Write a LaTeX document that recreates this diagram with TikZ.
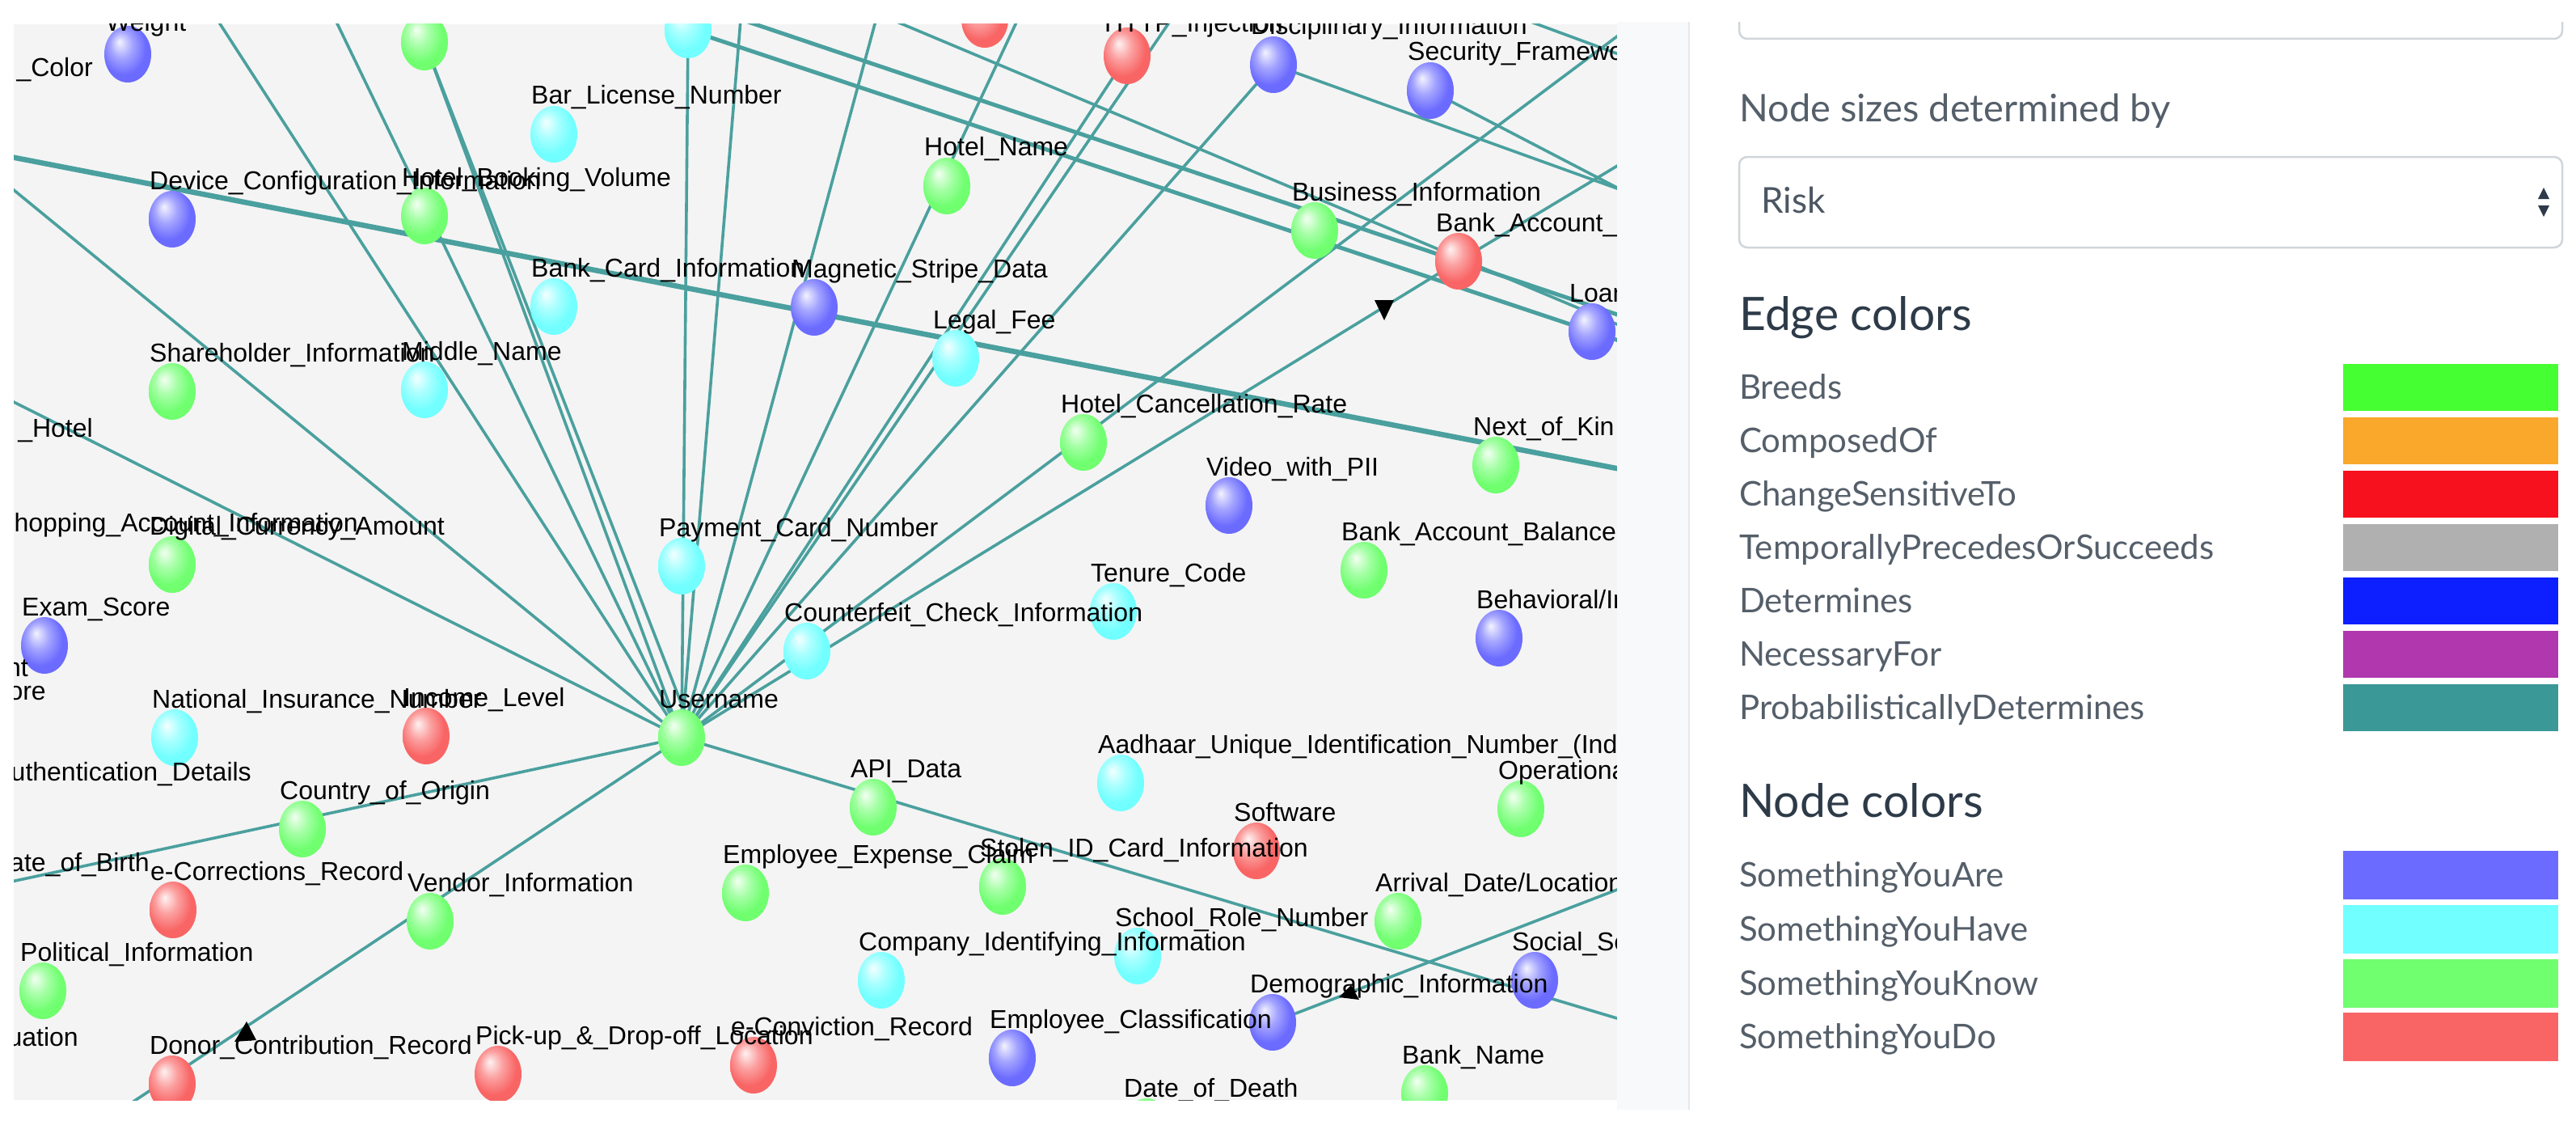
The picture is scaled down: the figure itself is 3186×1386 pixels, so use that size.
\documentclass[tikz,border=0pt]{standalone}
\usepackage{fontspec}
\setmainfont{Liberation Sans}
\newfontfamily\lato{Lato}
\usetikzlibrary{shapes.geometric}
\pgfdeclarelayer{back}
\pgfdeclarelayer{edges}
\pgfsetlayers{back,edges,main}
\definecolor{teal1}{RGB}{74,160,158}
\definecolor{panelgray}{RGB}{244,244,244}
\definecolor{stripcol}{RGB}{248,249,250}
\definecolor{stripline}{RGB}{230,232,235}
\definecolor{boxc}{RGB}{208,213,218}
\definecolor{txtc}{RGB}{85,95,106}
\definecolor{hdc}{RGB}{45,58,72}
\definecolor{nA}{RGB}{107,107,255}
\definecolor{nH}{RGB}{113,255,255}
\definecolor{nK}{RGB}{111,255,111}
\definecolor{nD}{RGB}{249,101,101}
\definecolor{eB}{RGB}{70,255,50}
\definecolor{eC}{RGB}{249,168,44}
\definecolor{eCh}{RGB}{247,16,30}
\definecolor{eT}{RGB}{176,176,176}
\definecolor{eD}{RGB}{13,30,255}
\definecolor{eN}{RGB}{176,55,174}
\definecolor{eP}{RGB}{58,152,150}
\colorlet{nodecol}{white}
\pgfdeclareradialshading[nodecol]{nodeball}{\pgfpoint{-9bp}{11bp}}{color(0bp)=(nodecol!8!white); color(12bp)=(nodecol!62!white); color(24bp)=(nodecol); color(50bp)=(nodecol)}
\tikzset{
  nball/.style={ellipse, minimum width=58pt, minimum height=70pt, inner sep=0pt, outer sep=0pt,
    /utils/exec={\colorlet{nodecol}{#1}}, shade, shading=nodeball},
  lbl/.style={anchor=base west, inner sep=0pt, font=\fontsize{32}{36}\selectfont, text=black},
  lble/.style={lbl, anchor=base east},
  tedge/.style={draw=teal1, line width=3.6pt},
  tedgew/.style={draw=teal1, line width=6.5pt},
  tedgem/.style={draw=teal1, line width=5pt},
  lt/.style={anchor=base west, inner sep=0pt, text=txtc, font=\lato\fontsize{42}{48}\selectfont},
  hd/.style={anchor=base west, inner sep=0pt, text=hdc, font=\lato\fontsize{57}{64}\selectfont},
  swatch/.style={minimum width=266pt, minimum height=58pt, inner sep=0pt, outer sep=0pt},
  selbox/.style={draw=boxc, line width=2.5pt, rounded corners=10pt, minimum width=1018pt, minimum height=112pt, inner sep=0pt}
}
\newcommand\gn[4]{\node[nball=#4] (#1) at (#2,#3) {};}
\newcommand\gl[2]{\node[lbl] (#1l) at ([xshift=-28pt,yshift=37pt]#1.center) {#2};}
\begin{document}
\begin{tikzpicture}[x=1pt,y=-1pt]
\useasboundingbox (0,0) rectangle (3186,1386);
\begin{pgfonlayer}{back}
\fill[white] (0,0) rectangle (3186,1386);
\fill[panelgray] (17,30) rectangle (2000,1360);
\end{pgfonlayer}

% ---------------- graph ----------------
\begin{scope}
\clip (17,30) rectangle (2000,1360);
\gn{weight}{158}{67}{nA}
\gn{gtop}{525}{52}{nK}
\gn{ctop}{851}{37}{nH}
\gn{rtop}{1218}{24}{nD}
\gn{http}{1394}{69}{nD}
\gn{disc}{1575}{80}{nA}
\gn{sec}{1769}{112}{nA}
\gn{barlic}{685}{166}{nH}
\gn{devcfg}{213}{271}{nA}
\gn{hbook}{525}{267}{nK}
\gn{bcard}{685}{379}{nH}
\gn{magst}{1007}{380}{nA}
\gn{hname}{1171}{230}{nK}
\gn{legal}{1182}{443}{nH}
\gn{business}{1626}{285}{nK}
\gn{bacct}{1804}{323}{nD}
\gn{loan}{1969}{410}{nA}
\gn{share}{213}{484}{nK}
\gn{middle}{525}{482}{nH}
\gn{hcancel}{1340}{547}{nK}
\gn{kin}{1850}{575}{nK}
\gn{digital}{213}{698}{nK}
\gn{payment}{843}{700}{nH}
\gn{video}{1520}{625}{nA}
\gn{bbal}{1687}{705}{nK}
\gn{exam}{55}{798}{nA}
\gn{counter}{998}{805}{nH}
\gn{tenure}{1377}{756}{nH}
\gn{behav}{1854}{789}{nA}
\gn{natins}{216}{912}{nH}
\gn{income}{527}{910}{nD}
\gn{user}{843}{912}{nK}
\gn{country}{374}{1025}{nK}
\gn{ecorr}{214}{1125}{nD}
\gn{vendor}{532}{1139}{nK}
\gn{political}{53}{1225}{nK}
\gn{donor}{213}{1340}{nD}
\gn{pickup}{616}{1328}{nD}
\gn{econv}{932}{1317}{nD}
\gn{empclass}{1252}{1308}{nA}
\gn{company}{1090}{1212}{nH}
\gn{empexp}{922}{1104}{nK}
\gn{stolen}{1240}{1096}{nK}
\gn{api}{1080}{998}{nK}
\gn{aadhaar}{1386}{968}{nH}
\gn{software}{1554}{1052}{nD}
\gn{oper}{1881}{1000}{nK}
\gn{school}{1407}{1182}{nH}
\gn{arrival}{1729}{1139}{nK}
\gn{social}{1898}{1212}{nA}
\gn{demo}{1574}{1264}{nA}
\gn{bankname}{1762}{1352}{nK}
\gn{death}{1418}{1393}{nK}

% free ends of connectors
\coordinate (c1) at (-200,57);
\coordinate (c2) at (-200,388);
\coordinate (c3) at (253,0);
\coordinate (c4) at (403,0);
\coordinate (c7) at (918,0);
\coordinate (c8) at (1090,0);
\coordinate (c9) at (1270,0);
\coordinate (c10) at (1465,0);
\coordinate (c12) at (2200,85);
\coordinate (c13) at (2060,0);
\coordinate (c15) at (-200,1136);
\coordinate (c16) at (-43,1500);
\coordinate (c17) at (2200,1319);
\coordinate (c18a) at (-100,172);
\coordinate (c18b) at (2200,618);
\coordinate (c19) at (2200,1023);
\coordinate (m1a) at (845,0);
\coordinate (m1b) at (2200,456);
\coordinate (m2b) at (2200,487);
\coordinate (m3a) at (1045,0);
\coordinate (m3b) at (2200,485);
\coordinate (m4b) at (2200,305);
\coordinate (m5b) at (2200,336);
\coordinate (m6a) at (1820,0);
\coordinate (m6b) at (2200,140);

% labels
\node[lbl] (weightl) at (131,39) {Weight};
\node[lbl] (httpl) at (1366,40) {HTTP\_Injection};
\gl{disc}{Disciplinary\_Information}
\gl{sec}{Security\_Framework}
\gl{barlic}{Bar\_License\_Number}
\gl{devcfg}{Device\_Configuration\_Information}
\gl{hbook}{Hotel\_Booking\_Volume}
\gl{bcard}{Bank\_Card\_Information}
\gl{magst}{Magnetic\_Stripe\_Data}
\gl{hname}{Hotel\_Name}
\gl{legal}{Legal\_Fee}
\gl{business}{Business\_Information}
\gl{bacct}{Bank\_Account\_Number}
\gl{loan}{Loan\_Information}
\gl{share}{Shareholder\_Information}
\gl{middle}{Middle\_Name}
\gl{hcancel}{Hotel\_Cancellation\_Rate}
\gl{kin}{Next\_of\_Kin}
\gl{digital}{Digital\_Currency\_Amount}
\gl{payment}{Payment\_Card\_Number}
\gl{video}{Video\_with\_PII}
\gl{bbal}{Bank\_Account\_Balance}
\gl{exam}{Exam\_Score}
\gl{counter}{Counterfeit\_Check\_Information}
\gl{tenure}{Tenure\_Code}
\gl{behav}{Behavioral/Interest}
\gl{natins}{National\_Insurance\_Number}
\gl{income}{Income\_Level}
\gl{user}{Username}
\gl{country}{Country\_of\_Origin}
\gl{ecorr}{e-Corrections\_Record}
\gl{vendor}{Vendor\_Information}
\gl{political}{Political\_Information}
\gl{donor}{Donor\_Contribution\_Record}
\gl{pickup}{Pick-up\_\&\_Drop-off\_Location}
\gl{econv}{e-Conviction\_Record}
\gl{empclass}{Employee\_Classification}
\gl{company}{Company\_Identifying\_Information}
\gl{empexp}{Employee\_Expense\_Claim}
\gl{stolen}{Stolen\_ID\_Card\_Information}
\gl{api}{API\_Data}
\gl{aadhaar}{Aadhaar\_Unique\_Identification\_Number\_(India)}
\gl{software}{Software}
\gl{oper}{Operational\_Information}
\gl{school}{School\_Role\_Number}
\gl{arrival}{Arrival\_Date/Location}
\gl{social}{Social\_Security\_Number}
\gl{demo}{Demographic\_Information}
\gl{bankname}{Bank\_Name}
\gl{death}{Date\_of\_Death}
% labels of nodes outside the view
\node[lble] (colorl) at (115,95) {\_Color};
\node[lble] (hotell) at (115,540) {\_Hotel};
\node[lble] (shopl) at (443,657) {Shopping\_Account\_Information};
\node[lble] (ntl) at (35,836) {nt};
\node[lble] (orel) at (57,865) {ore};
\node[lble] (authl) at (311,965) {Authentication\_Details};
\node[lble] (dobl) at (185,1077) {Date\_of\_Birth};
\node[lble] (uatl) at (97,1293) {uation};

% arrow heads
\fill[black] (1700,371) -- (1724,371) -- (1712,396) -- cycle;
\fill[black] (305,1263) -- (290,1288) -- (317,1286) -- cycle;
\fill[black] (1656,1233) -- (1671,1218) -- (1681,1236) -- cycle;
\end{scope}

\begin{pgfonlayer}{edges}
\begin{scope}
\clip (17,30) rectangle (2000,1360);
\draw[tedge] (user.center) -- (c1);
\draw[tedge] (user.center) -- (c2);
\draw[tedge] (user.center) -- (c3);
\draw[tedge] (user.center) -- (c4);
\draw[tedge] (user.center) -- (gtop.center);
\draw[tedge] ([xshift=16pt]user.center) -- (gtop.center);
\draw[tedge] (user.center) -- (ctop.center);
\draw[tedge] (user.center) -- (c7);
\draw[tedge] (user.center) -- (c8);
\draw[tedge] (user.center) -- (c9);
\draw[tedge] (user.center) -- (http.center);
\draw[tedge] (user.center) -- (c10);
\draw[tedge] (user.center) -- (disc.center);
\draw[tedge] (user.center) -- (bacct.center) -- (c12);
\draw[tedge] (user.center) -- (c13);
\draw[tedge] (user.center) -- (c15);
\draw[tedge] (user.center) -- (c16);
\draw[tedge] (user.center) -- (c17);
\draw[tedgew] (c18a) -- (c18b);
\draw[tedge] (demo.center) -- (c19);
\draw[tedgem] (m1a) -- (bacct.center) -- (m1b);
\draw[tedgem] (ctop.center) -- (loan.center) -- (m2b);
\draw[tedge] (m3a) -- (m3b);
\draw[tedge] (disc.center) -- (m4b);
\draw[tedge] (sec.center) -- (m5b);
\draw[tedge] (m6a) -- (m6b);
\end{scope}
\end{pgfonlayer}

% ---------------- side panel ----------------
\fill[stripcol] (2000,27) rectangle (2089,1372);
\draw[stripline, line width=2pt] (2089,27) -- (2089,1372);
\begin{scope}
\clip (2089,28) rectangle (3186,1386);
\draw[boxc, line width=2.5pt, rounded corners=10pt] (2151,-40) rectangle (3169,48);
\end{scope}
\node[lt, font=\lato\fontsize{47}{54}\selectfont] (nsz) at (2151,150) {Node sizes determined by};
\node[selbox] (risksel) at (2660,250) {};
\node[lt, font=\lato\fontsize{44}{50}\selectfont, text=hdc!85] (risk) at (2178,263) {Risk};
\fill[hdc] (3139,246) -- (3153,246) -- (3146,232) -- cycle;
\fill[hdc] (3139,254) -- (3153,254) -- (3146,268) -- cycle;

\node[hd] (edgeh) at (2151,408) {Edge colors};
\foreach \t/\c/\y [count=\i] in {Breeds/eB/450, ComposedOf/eC/516, ChangeSensitiveTo/eCh/582,
  TemporallyPrecedesOrSucceeds/eT/648, Determines/eD/714, NecessaryFor/eN/780,
  ProbabilisticallyDetermines/eP/846}{
  \node[lt] (et\i) at (2151,\y+43) {\t};
  \node[swatch, fill=\c] (es\i) at (3031,\y+29) {};
}
\node[hd] (nodeh) at (2151,1010) {Node colors};
\foreach \t/\c/\y [count=\i] in {SomethingYouAre/nA/1052, SomethingYouHave/nH/1119,
  SomethingYouKnow/nK/1186, SomethingYouDo/nD/1252}{
  \node[lt] (nt\i) at (2151,\y+44) {\t};
  \node[swatch, fill=\c, minimum height=60pt] (ns\i) at (3031,\y+30) {};
}
\end{tikzpicture}
\end{document}
